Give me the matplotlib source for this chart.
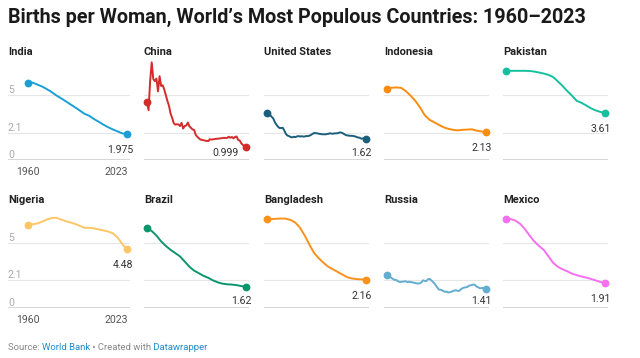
import numpy as np
import matplotlib.pyplot as plt

plt.rcParams['font.family'] = ['Roboto', 'DejaVu Sans']

W, H = 640, 358

# years: yearly for the bumpy series, every 3 years for the smooth ones
years_all = list(range(1960, 2024))
years_3 = list(range(1960, 2024, 3))

india = [5.92, 5.95, 5.80, 5.65, 5.45, 5.23, 4.97, 4.75, 4.52, 4.28, 4.05,
         3.80, 3.55, 3.40, 3.15, 2.94, 2.72, 2.52, 2.35, 2.20, 2.05, 1.975]
china = [4.45, 3.83, 6.09, 7.51, 6.23, 6.07, 6.26, 5.28, 6.45, 5.69,
         5.75, 5.41, 4.98, 4.54, 4.17, 3.57, 3.24, 2.84, 2.72, 2.75,
         2.74, 2.61, 2.86, 2.42, 2.62, 2.65, 2.88, 2.59, 2.47, 2.35,
         2.31, 1.93, 1.79, 1.68, 1.57, 1.55, 1.52, 1.49, 1.47, 1.45,
         1.60, 1.57, 1.59, 1.61, 1.63, 1.64, 1.65, 1.67, 1.69, 1.71,
         1.69, 1.70, 1.79, 1.71, 1.77, 1.67, 1.77, 1.81, 1.55, 1.50,
         1.28, 1.16, 1.05, 0.999]
usa = [3.65, 3.62, 3.46, 3.32, 3.19, 2.91, 2.72, 2.56, 2.46, 2.46,
       2.48, 2.27, 2.01, 1.88, 1.84, 1.77, 1.74, 1.79, 1.76, 1.81,
       1.84, 1.81, 1.83, 1.80, 1.81, 1.84, 1.84, 1.87, 1.93, 2.01,
       2.08, 2.06, 2.05, 2.02, 2.00, 1.98, 1.98, 1.97, 2.00, 2.01,
       2.06, 2.03, 2.02, 2.05, 2.05, 2.06, 2.11, 2.12, 2.07, 2.00,
       1.93, 1.89, 1.88, 1.86, 1.86, 1.84, 1.82, 1.77, 1.73, 1.71,
       1.64, 1.66, 1.67, 1.62]
indonesia = [5.50, 5.56, 5.58, 5.55, 5.30, 4.95, 4.55, 4.05, 3.45, 3.10, 2.90,
             2.70, 2.52, 2.40, 2.32, 2.28, 2.32, 2.34, 2.36, 2.26, 2.20, 2.13]
pakistan = [6.85, 6.86, 6.86, 6.86, 6.86, 6.85, 6.80, 6.73, 6.65, 6.55, 6.38,
            6.05, 5.70, 5.30, 4.95, 4.55, 4.40, 4.20, 3.98, 3.82, 3.70, 3.61]
nigeria = [6.40, 6.42, 6.48, 6.62, 6.78, 6.90, 6.92, 6.78, 6.66, 6.56, 6.44,
           6.30, 6.14, 6.15, 6.10, 6.02, 5.95, 5.86, 5.72, 5.40, 4.90, 4.48]
brazil = [6.10, 5.90, 5.55, 5.10, 4.75, 4.45, 4.20, 3.95, 3.55, 3.15, 2.85,
          2.65, 2.45, 2.30, 2.10, 1.95, 1.85, 1.80, 1.78, 1.74, 1.66, 1.62]
bangladesh = [6.80, 6.82, 6.84, 6.86, 6.85, 6.75, 6.55, 6.15, 5.55, 4.85, 4.20,
              3.80, 3.45, 3.15, 2.95, 2.75, 2.55, 2.35, 2.25, 2.20, 2.18, 2.16]
russia = [2.52, 2.45, 2.36, 2.28, 2.19, 2.14, 2.13, 2.03, 1.98, 1.99,
          2.00, 2.02, 2.03, 1.96, 2.00, 1.97, 1.96, 1.92, 1.90, 1.87,
          1.86, 1.88, 1.96, 2.11, 2.06, 2.05, 2.18, 2.22, 2.13, 2.01,
          1.89, 1.73, 1.55, 1.39, 1.39, 1.34, 1.27, 1.22, 1.24, 1.16,
          1.20, 1.22, 1.29, 1.32, 1.34, 1.29, 1.30, 1.42, 1.50, 1.54,
          1.57, 1.58, 1.69, 1.71, 1.75, 1.78, 1.76, 1.62, 1.58, 1.50,
          1.51, 1.51, 1.42, 1.41]
mexico = [6.80, 6.82, 6.70, 6.45, 6.05, 5.55, 5.10, 4.75, 4.45, 3.95, 3.45,
          3.15, 2.95, 2.80, 2.62, 2.50, 2.40, 2.32, 2.22, 2.10, 1.98, 1.91]

names = ['India', 'China', 'United States', 'Indonesia', 'Pakistan',
         'Nigeria', 'Brazil', 'Bangladesh', 'Russia', 'Mexico']
series = [(years_3, india), (years_all, china), (years_all, usa),
          (years_3, indonesia), (years_3, pakistan), (years_3, nigeria),
          (years_3, brazil), (years_3, bangladesh), (years_all, russia),
          (years_3, mexico)]
end_labels = ['1.975', '0.999', '1.62', '2.13', '3.61',
              '4.48', '1.62', '2.16', '1.41', '1.91']
colors = ['#1aa0d6', '#d42b2b', '#1c5f7c', '#fa8d0f', '#18bf9f',
          '#fdc666', '#0b956d', '#f8921c', '#63add1', '#f56ff0']

grid_vals = [0, 2.1, 5]
grid_labels = ['0', '2.1', '5']

# layout in pixels
col_start = [28, 147, 267, 387, 506]
data_w = 99
row_base = [160, 307.7]
ppu = 13.0            # pixels per birth
ax_h = 100
ppy = data_w / 63.0


def fx(x):
    return x / W


def fy(y):
    return 1 - y / H


fig = plt.figure(figsize=(W / 100, H / 100), dpi=100)
fig.patch.set_facecolor('white')

for i, name in enumerate(names):
    row, col = divmod(i, 5)
    x0 = col_start[col]
    left = 8 if col == 0 else x0 - 3
    right = x0 + data_w + 3
    base = row_base[row]
    ax = fig.add_axes([fx(left), fy(base), (right - left) / W, ax_h / H])
    ax.set_xlim(1960 - (x0 - left) / ppy, 2023 + 3 / ppy)
    ax.set_ylim(0, ax_h / ppu)
    ax.axis('off')

    for g in grid_vals[1:]:
        ax.axhline(g, color='#e6e6e6', lw=0.8, zorder=0)
    ax.axhline(0, color='#333333', lw=1.0, zorder=1)

    yrs, vals = series[i]
    c = colors[i]
    ax.plot(yrs, vals, color=c, lw=1.4, clip_on=False, zorder=3,
            solid_joinstyle='round', solid_capstyle='round')
    ax.plot([yrs[0], yrs[-1]], [vals[0], vals[-1]], 'o', ms=4.6, color=c,
            clip_on=False, zorder=4)

    ax.annotate(name, xy=(0, 1), xycoords='axes fraction', xytext=(0, 8),
                textcoords='offset pixels', ha='left', va='center',
                fontsize=8, fontweight='bold', color='#222222')

    # end value label below the last dot, kept above the baseline
    dot_px = base - vals[-1] * ppu
    lab_px = min(dot_px + 16, base - 7)
    if lab_px - dot_px < 10:
        dx = -7
    else:
        dx = 6
    ax.annotate(end_labels[i], xy=(yrs[-1], vals[-1]), xytext=(dx, -(lab_px - dot_px)),
                textcoords='offset pixels', ha='right', va='center',
                fontsize=7.6, color='#333333')

    if col == 0:
        for g, lbl in zip(grid_vals, grid_labels):
            ax.annotate(lbl, xy=(0, g), xycoords=('axes fraction', 'data'),
                        xytext=(0, 2), textcoords='offset pixels',
                        ha='left', va='baseline', fontsize=7.6, color='#aaaaaa')
        ax.annotate('1960', xy=(1960, 0), xytext=(0, -12), textcoords='offset pixels',
                    ha='center', va='center', fontsize=7.6, color='#555555')
        ax.annotate('2023', xy=(2023, 0), xytext=(1, -12), textcoords='offset pixels',
                    ha='right', va='center', fontsize=7.6, color='#555555')

fig.text(fx(8), fy(17), 'Births per Woman, World\u2019s Most Populous Countries: 1960\u20132023',
         ha='left', va='center', fontsize=14.2, fontweight='bold', color='#1a1a1a')

# source line, pieces in two colours
renderer = fig.canvas.get_renderer()
x = 8
for piece, pc in [('Source: ', '#888888'), ('World Bank', '#1f8ccc'),
                  (' \u2022 Created with', '#888888'), (' Datawrapper', '#1f8ccc')]:
    t = fig.text(fx(x), fy(347), piece, ha='left', va='center', fontsize=6.8, color=pc)
    x += t.get_window_extent(renderer).width

fig.savefig('out.png', dpi=100, facecolor='white')
